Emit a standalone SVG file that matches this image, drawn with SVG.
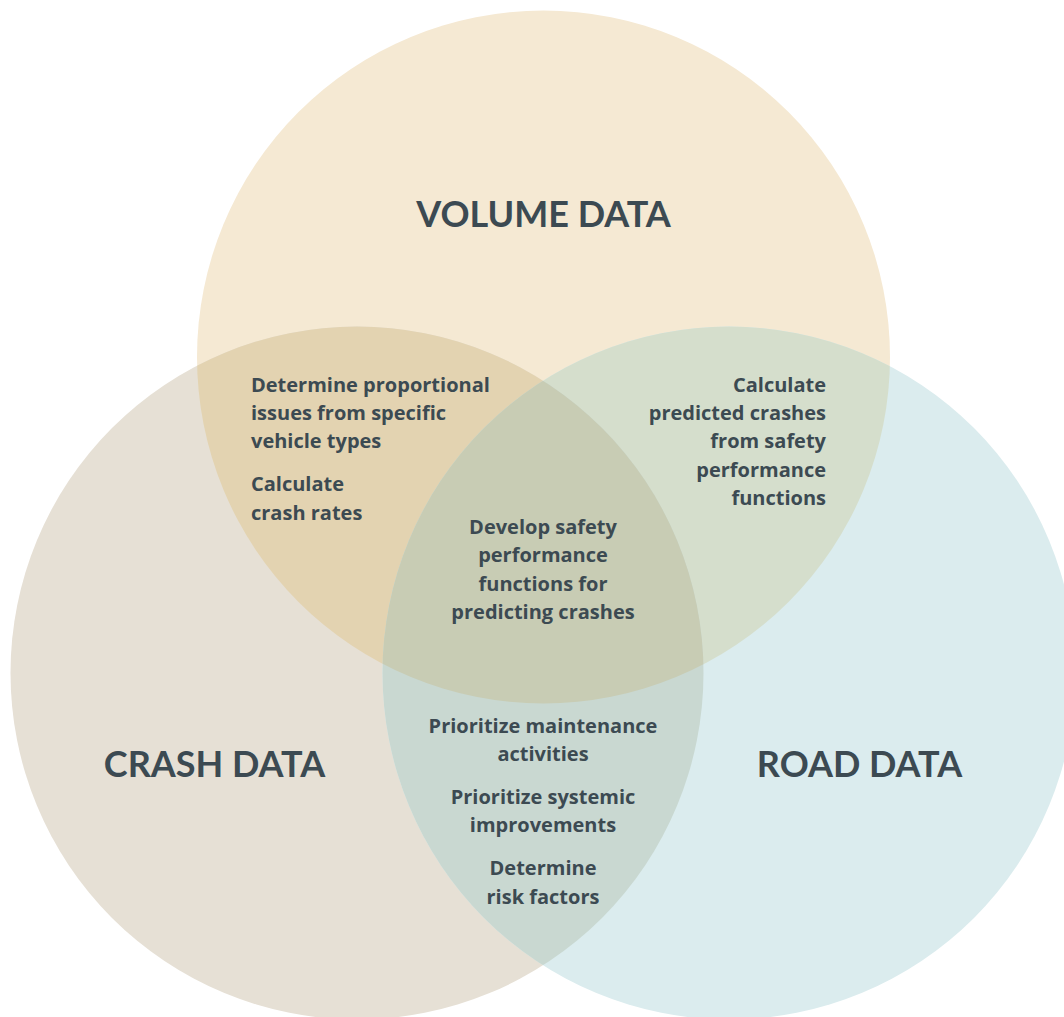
<svg xmlns="http://www.w3.org/2000/svg" width="1064" height="1017" viewBox="0 0 1064 1017">
<style>
.t{font-family:"Open Sans","Noto Sans","Liberation Sans",sans-serif;font-weight:700;fill:#3c4a52;font-size:20px}
.h{font-family:Lato,"Liberation Sans",sans-serif;font-weight:700;fill:#3c4a52;font-size:36px}
.m{text-anchor:middle}.e{text-anchor:end}
</style>
<defs>
<circle id="cV" cx="543.5" cy="357" r="346.5"/>
<circle id="cC" cx="357" cy="673" r="346.5"/>
<circle id="cR" cx="729" cy="673" r="346.5"/>
<clipPath id="clipV"><use href="#cV"/></clipPath>
<clipPath id="clipC"><use href="#cC"/></clipPath>
<clipPath id="clipR"><use href="#cR"/></clipPath>
</defs>
<rect width="1064" height="1017" fill="#ffffff"/>
<g id="volume">
<use href="#cV" fill="#f5e9d3"/>
<text class="h m" x="543.5" y="227">VOLUME DATA</text>
</g>
<g id="crash">
<use href="#cC" fill="#e6e0d5"/>
<text class="h m" x="214.5" y="777">CRASH DATA</text>
</g>
<g id="road">
<use href="#cR" fill="#dbecee"/>
<text class="h m" x="859.5" y="777">ROAD DATA</text>
</g>
<g id="volume-crash">
<use href="#cC" fill="#e3d3b1" clip-path="url(#clipV)"/>
<text class="t" x="251" y="392">Determine proportional</text>
<text class="t" x="251" y="420">issues from specific</text>
<text class="t" x="251" y="448">vehicle types</text>
<text class="t" x="251" y="491">Calculate</text>
<text class="t" x="251" y="520">crash rates</text>
</g>
<g id="volume-road">
<use href="#cR" fill="#d5decc" clip-path="url(#clipV)"/>
<text class="t e" x="826" y="392">Calculate</text>
<text class="t e" x="826" y="420">predicted crashes</text>
<text class="t e" x="826" y="448">from safety</text>
<text class="t e" x="826" y="477">performance</text>
<text class="t e" x="826" y="505">functions</text>
</g>
<g id="crash-road">
<use href="#cR" fill="#c9d8d1" clip-path="url(#clipC)"/>
<text class="t m" x="543" y="733">Prioritize maintenance</text>
<text class="t m" x="543" y="761">activities</text>
<text class="t m" x="543" y="804">Prioritize systemic</text>
<text class="t m" x="543" y="832">improvements</text>
<text class="t m" x="543" y="875">Determine</text>
<text class="t m" x="543" y="904">risk factors</text>
</g>
<g id="center">
<g clip-path="url(#clipV)"><use href="#cR" fill="#c8ccb4" clip-path="url(#clipC)"/></g>
<text class="t m" x="543" y="534">Develop safety</text>
<text class="t m" x="543" y="562">performance</text>
<text class="t m" x="543" y="591">functions for</text>
<text class="t m" x="543" y="619">predicting crashes</text>
</g>
<g id="connectors"/>
</svg>
